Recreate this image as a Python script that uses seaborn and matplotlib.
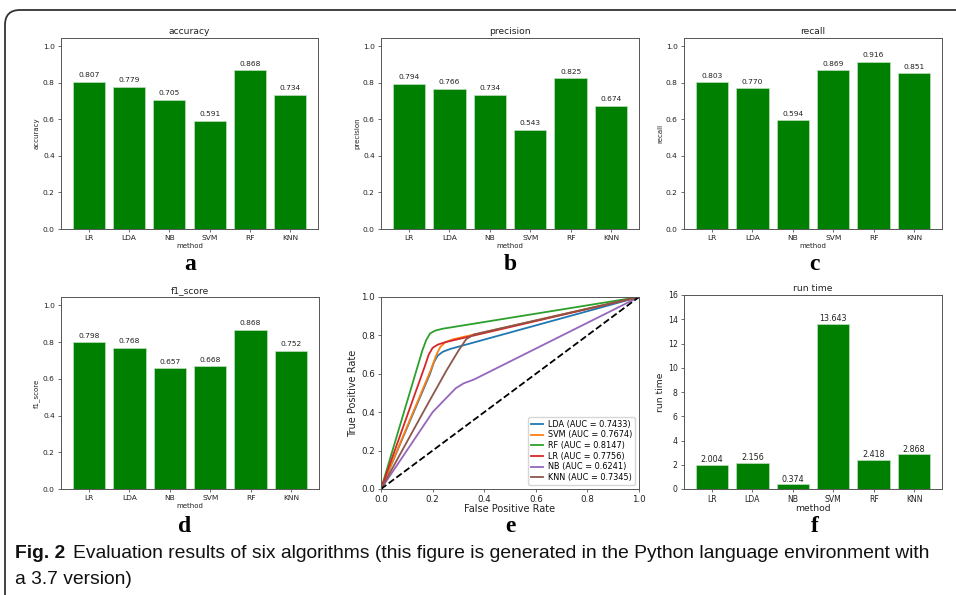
import matplotlib
matplotlib.use("Agg")
import matplotlib.pyplot as plt
import seaborn as sns
import numpy as np
import pandas as pd
from matplotlib.path import Path
from matplotlib.patches import PathPatch

# ---------------- data ----------------
methods = ["LR", "LDA", "NB", "SVM", "RF", "KNN"]
accuracy = [0.807, 0.779, 0.705, 0.591, 0.868, 0.734]
precision = [0.794, 0.766, 0.734, 0.543, 0.825, 0.674]
recall = [0.803, 0.770, 0.594, 0.869, 0.916, 0.851]
f1_score = [0.798, 0.768, 0.657, 0.668, 0.868, 0.752]
run_time = [2.004, 2.156, 0.374, 13.643, 2.418, 2.868]

roc_labels = ["LDA (AUC = 0.7433)", "SVM (AUC = 0.7674)", "RF (AUC = 0.8147)",
              "LR (AUC = 0.7756)", "NB (AUC = 0.6241)", "KNN (AUC = 0.7345)"]
roc_fpr_lda = [0.0, 0.19, 0.205, 0.22, 0.24, 0.27, 1.0]
roc_tpr_lda = [0.0, 0.60, 0.66, 0.695, 0.715, 0.73, 1.0]
roc_fpr_svm = [0.0, 0.19, 0.215, 0.23, 0.25, 0.28, 1.0]
roc_tpr_svm = [0.0, 0.61, 0.70, 0.74, 0.765, 0.78, 1.0]
roc_fpr_rf = [0.0, 0.16, 0.175, 0.19, 0.21, 0.24, 1.0]
roc_tpr_rf = [0.0, 0.72, 0.775, 0.81, 0.825, 0.835, 1.0]
roc_fpr_lr = [0.0, 0.17, 0.185, 0.20, 0.22, 0.25, 1.0]
roc_tpr_lr = [0.0, 0.64, 0.70, 0.735, 0.752, 0.765, 1.0]
roc_fpr_nb = [0.0, 0.20, 0.25, 0.29, 0.32, 0.36, 1.0]
roc_tpr_nb = [0.0, 0.40, 0.47, 0.525, 0.55, 0.57, 1.0]
roc_fpr_knn = [0.0, 0.18, 0.255, 0.30, 0.33, 0.36, 1.0]
roc_tpr_knn = [0.0, 0.44, 0.62, 0.72, 0.78, 0.805, 1.0]
diag = [0.0, 1.0]

# ---------------- figure ----------------
W, H = 956, 595
fig = plt.figure(figsize=(W / 100, H / 100), dpi=100)
fig.patch.set_facecolor("white")

def rect(x0, x1, y0, y1):
    return [x0 / W, (H - y1) / H, (x1 - x0) / W, (y1 - y0) / H]

SPINE = "#555555"
TXT = "#222222"

def style_axes(ax, tick_fs):
    for s in ax.spines.values():
        s.set_color(SPINE)
        s.set_linewidth(0.7)
    ax.tick_params(axis="both", labelsize=tick_fs, colors=SPINE, labelcolor=TXT,
                   length=2.5, width=0.6, pad=2)

def bar_panel(pos, values, name, ylim, yticks, tick_fs, lab_fs, title_fs, txt_fs, off):
    ax = fig.add_axes(pos)
    df = pd.DataFrame({"method": methods, name: values})
    sns.barplot(data=df, x="method", y=name, color="green", saturation=1,
                width=0.8, edgecolor="#bfe0bf", linewidth=0.5, ax=ax)
    ax.set_xlim(-0.69, 5.69)
    ax.set_ylim(*ylim)
    ax.set_yticks(yticks)
    ax.set_yticklabels([f"{t:.1f}" if ylim[1] < 2 else f"{int(t)}" for t in yticks])
    style_axes(ax, tick_fs)
    ax.set_title(name, fontsize=title_fs, color=TXT, pad=3)
    ax.set_xlabel("method", fontsize=lab_fs, color=TXT, labelpad=1)
    ax.set_ylabel(name, fontsize=lab_fs, color=TXT, labelpad=2)
    for i, v in enumerate(values):
        ax.text(i, v + off, f"{v:.3f}", ha="center", va="bottom",
                fontsize=txt_fs, color=TXT)
    return ax

yt = [0.0, 0.2, 0.4, 0.6, 0.8, 1.0]
bar_panel(rect(61, 318, 38, 229), accuracy, "accuracy", (0, 1.045), yt, 5.4, 5.0, 6.6, 5.4, 0.02)
bar_panel(rect(381, 639, 38, 229), precision, "precision", (0, 1.045), yt, 5.4, 5.0, 6.6, 5.4, 0.02)
bar_panel(rect(684, 942, 38, 229), recall, "recall", (0, 1.045), yt, 5.4, 5.0, 6.6, 5.4, 0.02)
bar_panel(rect(61, 319, 297, 489), f1_score, "f1_score", (0, 1.045), yt, 5.4, 5.0, 6.6, 5.4, 0.02)
axf = bar_panel(rect(684, 942, 295, 489), run_time, "run time", (0, 16),
                [0, 2, 4, 6, 8, 10, 12, 14, 16], 5.6, 6.6, 6.6, 5.8, 0.05)
axf.xaxis.labelpad = 0

# ROC panel
ax = fig.add_axes(rect(381, 639, 297, 489))
roc_sets = [(roc_fpr_lda, roc_tpr_lda), (roc_fpr_svm, roc_tpr_svm), (roc_fpr_rf, roc_tpr_rf),
            (roc_fpr_lr, roc_tpr_lr), (roc_fpr_nb, roc_tpr_nb), (roc_fpr_knn, roc_tpr_knn)]
pal = sns.color_palette("tab10", 6)
for (fx, fy), lab, col in zip(roc_sets, roc_labels, pal):
    sns.lineplot(x=fx, y=fy, sort=False, estimator=None, color=col, label=lab,
                 linewidth=1.3, ax=ax)
sns.lineplot(x=diag, y=diag, sort=False, estimator=None, color="black",
             linestyle="--", linewidth=1.3, ax=ax)
ax.set_xlim(0, 1)
ax.set_ylim(0, 1)
ax.set_xticks([0, 0.2, 0.4, 0.6, 0.8, 1.0])
ax.set_yticks([0, 0.2, 0.4, 0.6, 0.8, 1.0])
style_axes(ax, 6.3)
ax.set_xlabel("False Positive Rate", fontsize=7.0, color=TXT, labelpad=0)
ax.set_ylabel("True Positive Rate", fontsize=7.0, color=TXT, labelpad=2)
ax.legend(loc="lower right", fontsize=5.9, frameon=True, handlelength=1.4,
          borderpad=0.35, labelspacing=0.2, handletextpad=0.6)

# panel letters
for lt, x, y in [("a", 190, 265), ("b", 510, 265), ("c", 814, 265),
                 ("d", 185, 527), ("e", 510, 527), ("f", 815, 527)]:
    fig.text(x / W, 1 - y / H, lt, ha="center", va="center",
             fontsize=17, fontweight="bold", family=["Liberation Serif", "DejaVu Serif"])

# caption
cap_fam = ["Liberation Sans", "DejaVu Sans"]
cap_fs = 13.9
t1 = fig.text(15 / W, 1 - 553 / H, "Fig. 2", ha="left", va="center", fontsize=cap_fs,
              fontweight="bold", family=cap_fam, color="#111111")
r = fig.canvas.get_renderer()
bb = t1.get_window_extent(renderer=r)
fig.text((bb.x1 + 8) / W, 1 - 553 / H,
         "Evaluation results of six algorithms (this figure is generated in the Python language environment with",
         ha="left", va="center", fontsize=cap_fs, family=cap_fam, color="#111111")
fig.text(15 / W, 1 - 579 / H, "a 3.7 version)", ha="left", va="center",
         fontsize=cap_fs, family=cap_fam, color="#111111")

# page border with rounded top-left corner (in inches)
rad = 0.15
xl, yt_ = 0.05, (H - 10) / 100
verts = [(xl, -0.2), (xl, yt_ - rad), (xl, yt_), (xl + rad, yt_), (W / 100 + 0.2, yt_)]
codes = [Path.MOVETO, Path.LINETO, Path.CURVE3, Path.CURVE3, Path.LINETO]
fig.add_artist(PathPatch(Path(verts, codes), transform=fig.dpi_scale_trans,
                         fill=False, edgecolor="#333333", linewidth=1.3))

fig.savefig("out.png", dpi=100, facecolor="white")
